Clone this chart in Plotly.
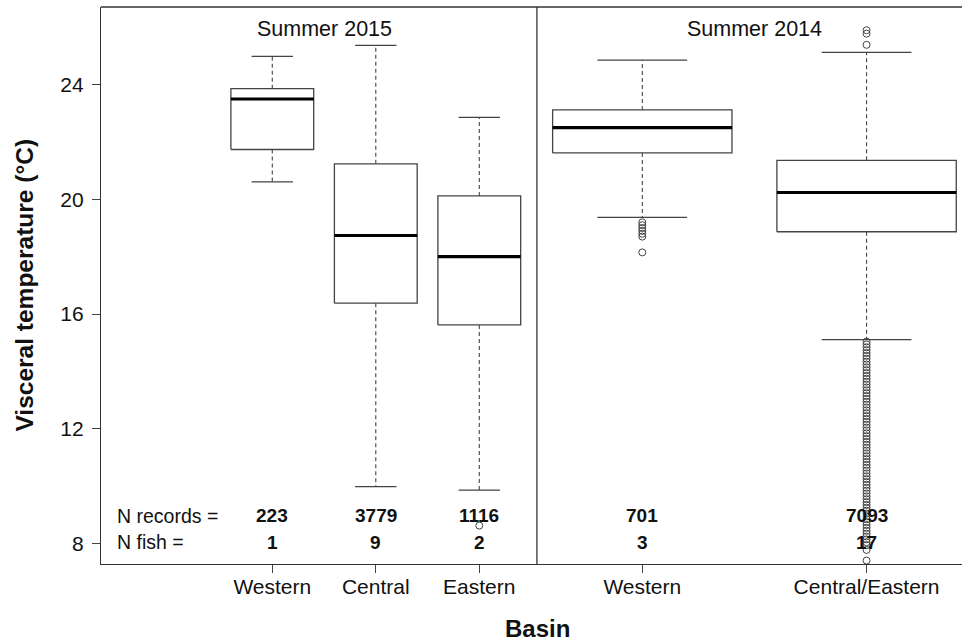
import plotly.graph_objects as go

# ---------------- data ----------------
basins = ["Western", "Central", "Eastern", "Western", "Central/Eastern"]
seasons = ["Summer 2015", "Summer 2015", "Summer 2015", "Summer 2014", "Summer 2014"]
lower_whisker = [20.61, 9.98, 9.86, 19.37, 15.11]
q1 = [21.74, 16.38, 15.62, 21.62, 18.87]
median = [23.50, 18.74, 18.00, 22.50, 20.24]
q3 = [23.86, 21.24, 20.12, 23.12, 21.36]
upper_whisker = [24.99, 25.37, 22.86, 24.86, 25.13]
n_records = [223, 3779, 1116, 701, 7093]
n_fish = [1, 9, 2, 3, 17]

outliers = [
    [],
    [],
    [8.62],
    [19.20, 19.10, 19.00, 18.90, 18.80, 18.70, 18.15],
    [25.39, 25.78, 25.90,
     15.04, 14.94, 14.84, 14.74, 14.64, 14.54, 14.44, 14.34, 14.24, 14.14,
     14.04, 13.94, 13.84, 13.74, 13.64, 13.54, 13.44, 13.34, 13.24, 13.14,
     13.04, 12.94, 12.84, 12.74, 12.64, 12.54, 12.44, 12.34, 12.24, 12.14,
     12.04, 11.94, 11.84, 11.74, 11.64, 11.54, 11.44, 11.34, 11.24, 11.14,
     11.04, 10.94, 10.84, 10.74, 10.64, 10.54, 10.44, 10.34, 10.24, 10.14,
     10.04, 9.94, 9.84, 9.74, 9.64, 9.54, 9.44, 9.34, 9.24, 9.14,
     9.04, 8.94, 8.84, 8.74, 8.64, 8.54, 8.44, 8.34, 8.24, 8.14,
     8.04, 7.94, 7.77, 7.40],
]
y_ticks = [8, 12, 16, 20, 24]

# ---------------- layout constants (positions / styles) ----------------
pos = [1.0, 2.0, 3.0, 4.575, 6.742]
box_w = [0.8, 0.8, 0.8, 1.733, 1.733]
divider_x = 3.557
season_label_x = {"Summer 2015": 1.5, "Summer 2014": 5.657}
x_range = [-0.655, 7.664]
y_range = [7.28, 26.71]

FONT = "Liberation Sans, Arial, Helvetica, sans-serif"
LINE = "#444444"
TXT = "#111111"

fig = go.Figure()

for i in range(len(basins)):
    c, w = pos[i], box_w[i]
    # box
    fig.add_trace(go.Scatter(
        x=[c - w / 2, c + w / 2, c + w / 2, c - w / 2, c - w / 2],
        y=[q1[i], q1[i], q3[i], q3[i], q1[i]],
        mode="lines", line=dict(color=LINE, width=1.3),
        hoverinfo="skip", showlegend=False))
    # whiskers (dashed)
    fig.add_trace(go.Scatter(
        x=[c, c, None, c, c],
        y=[q3[i], upper_whisker[i], None, q1[i], lower_whisker[i]],
        mode="lines", line=dict(color=LINE, width=1.1, dash="4px,3px"),
        hoverinfo="skip", showlegend=False))
    # staples
    fig.add_trace(go.Scatter(
        x=[c - w / 4, c + w / 4, None, c - w / 4, c + w / 4],
        y=[upper_whisker[i], upper_whisker[i], None, lower_whisker[i], lower_whisker[i]],
        mode="lines", line=dict(color=LINE, width=1.3),
        hoverinfo="skip", showlegend=False))
    # median
    fig.add_trace(go.Scatter(
        x=[c - w / 2, c + w / 2], y=[median[i], median[i]],
        mode="lines", line=dict(color="#000000", width=3.2),
        hoverinfo="skip", showlegend=False))
    # outliers
    if outliers[i]:
        fig.add_trace(go.Scatter(
            x=[c] * len(outliers[i]), y=outliers[i], mode="markers",
            marker=dict(symbol="circle-open", size=7, color=LINE, line=dict(width=1)),
            hoverinfo="skip", showlegend=False))

annotations = []
# counts
for i in range(len(basins)):
    annotations.append(dict(x=pos[i], y=8.97, xref="x", yref="y", text=f"<b>{n_records[i]}</b>",
                            showarrow=False, xanchor="center", yanchor="middle",
                            font=dict(family=FONT, size=19, color=TXT)))
    annotations.append(dict(x=pos[i], y=8.04, xref="x", yref="y", text=f"<b>{n_fish[i]}</b>",
                            showarrow=False, xanchor="center", yanchor="middle",
                            font=dict(family=FONT, size=19, color=TXT)))
annotations.append(dict(x=-0.517, y=8.97, xref="x", yref="y", text="N records =",
                        showarrow=False, xanchor="left", yanchor="middle",
                        font=dict(family=FONT, size=19.5, color=TXT)))
annotations.append(dict(x=-0.517, y=8.04, xref="x", yref="y", text="N fish =",
                        showarrow=False, xanchor="left", yanchor="middle",
                        font=dict(family=FONT, size=19.5, color=TXT)))
for s, xv in season_label_x.items():
    annotations.append(dict(x=xv, y=25.95, xref="x", yref="y", text=s,
                            showarrow=False, xanchor="center", yanchor="middle",
                            font=dict(family=FONT, size=21.5, color=TXT)))
annotations.append(dict(x=-0.0894, y=0.5, xref="paper", yref="paper",
                        text="<b>Visceral temperature (°C)</b>", textangle=-90,
                        showarrow=False, xanchor="center", yanchor="middle",
                        font=dict(family=FONT, size=24.5, color=TXT)))
annotations.append(dict(x=0.5066, y=-0.115, xref="paper", yref="paper",
                        text="<b>Basin</b>",
                        showarrow=False, xanchor="center", yanchor="middle",
                        font=dict(family=FONT, size=24, color=TXT)))

shapes = [
    dict(type="line", xref="paper", yref="paper", x0=0, x1=1, y0=1, y1=1,
         line=dict(color="#333333", width=1.3)),
    dict(type="line", xref="x", yref="paper", x0=divider_x, x1=divider_x, y0=0, y1=1,
         line=dict(color="#333333", width=1.3)),
]

fig.update_layout(
    width=962, height=641,
    margin=dict(l=101, r=0, t=7, b=77),
    paper_bgcolor="white", plot_bgcolor="white",
    font=dict(family=FONT, color=TXT),
    annotations=annotations, shapes=shapes,
    xaxis=dict(range=x_range, tickvals=pos, ticktext=basins, ticks="outside", ticklen=8,
               tickcolor="#444444", tickwidth=1.2, showline=True, linecolor="#333333",
               linewidth=1.3, showgrid=False, zeroline=False, ticklabelstandoff=-4,
               tickfont=dict(family=FONT, size=21, color=TXT)),
    yaxis=dict(range=y_range, tickvals=y_ticks, ticks="outside", ticklen=8,
               tickcolor="#444444", tickwidth=1.2, showline=True, linecolor="#333333",
               linewidth=1.3, showgrid=False, zeroline=False, ticklabelstandoff=4,
               tickfont=dict(family=FONT, size=21, color=TXT)),
)

fig.write_html("out.html", config={"displayModeBar": False},
               post_script="document.body.style.margin='0';document.body.style.overflow='hidden';")
